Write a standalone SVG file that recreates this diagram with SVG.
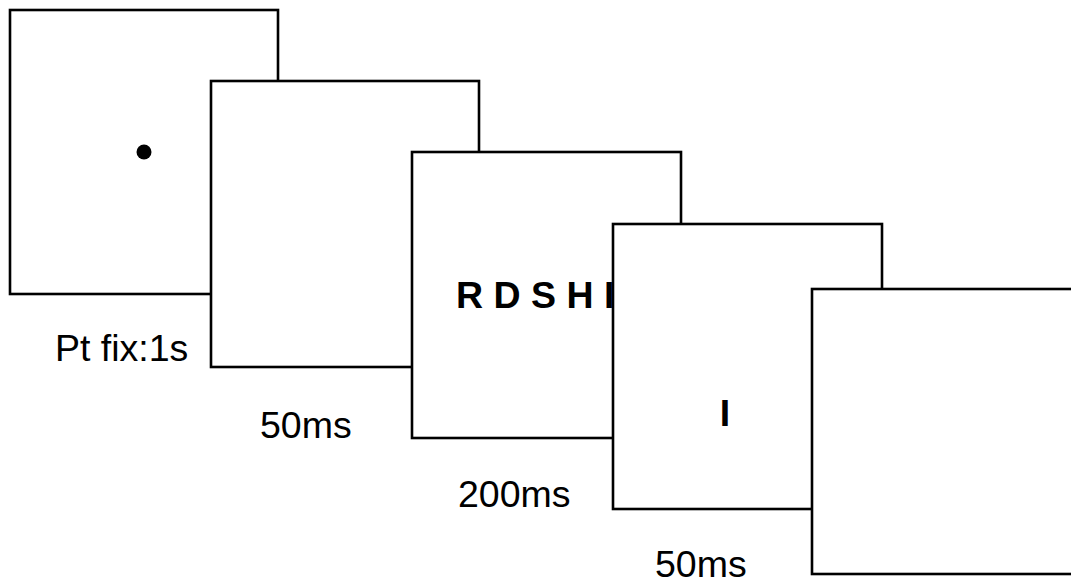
<svg xmlns="http://www.w3.org/2000/svg" width="1071" height="583" viewBox="0 0 1071 583">
  <style>
    .frame { fill: #ffffff; stroke: #000000; stroke-width: 2.6; }
    .label { font-family: "Liberation Sans", Arial, sans-serif; font-size: 37.5px; fill: #000000; }
    .stim { font-family: "Liberation Sans", Arial, sans-serif; font-size: 37.5px; font-weight: bold; fill: #000000; }
  </style>
  <rect width="1071" height="583" fill="#ffffff"/>

  <!-- fixation screen -->
  <g id="frame-fixation">
    <rect class="frame" x="10" y="10" width="268" height="284"/>
    <circle cx="144" cy="152" r="7.5" fill="#000000"/>
    <text class="label" x="55" y="361">Pt fix:1s</text>
  </g>

  <!-- blank screen -->
  <g id="frame-blank-1">
    <rect class="frame" x="211" y="81" width="268" height="286"/>
    <text class="label" x="260" y="438">50ms</text>
  </g>

  <!-- letter string -->
  <g id="frame-letters">
    <rect class="frame" x="412" y="152" width="269" height="286"/>
    <text class="stim" x="456" y="308">R D S H I</text>
    <text class="label" x="458" y="507">200ms</text>
  </g>

  <!-- single letter probe -->
  <g id="frame-probe">
    <rect class="frame" x="613" y="224" width="269" height="285"/>
    <text class="stim" x="725" y="426" text-anchor="middle">I</text>
    <text class="label" x="655" y="577">50ms</text>
  </g>

  <!-- response screen -->
  <g id="frame-response">
    <rect class="frame" x="812" y="289" width="290" height="285"/>
  </g>

  <g id="connectors"/>
</svg>
